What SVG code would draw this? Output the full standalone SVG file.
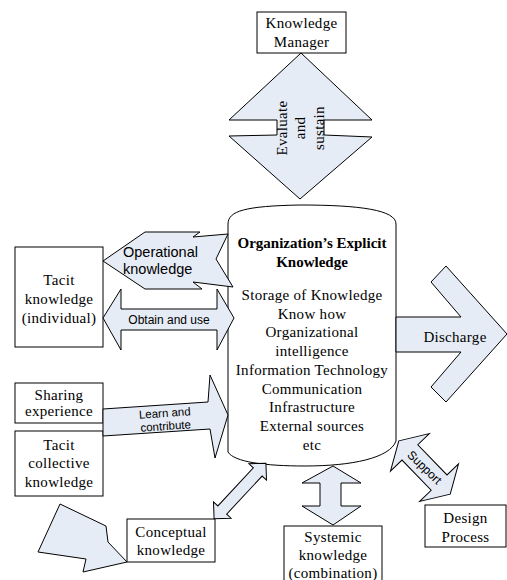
<svg xmlns="http://www.w3.org/2000/svg" width="507" height="580" viewBox="0 0 507 580">
<style>
.box{fill:#fff;stroke:#000;stroke-width:1}
.arr{fill:#e6ecf6;stroke:#000;stroke-width:1;stroke-linejoin:miter}
.serif{font-family:"Liberation Serif","Times New Roman",serif;font-size:15px;fill:#000;text-anchor:middle;letter-spacing:0.3px}
.sans{font-family:"Liberation Sans",Arial,sans-serif;fill:#000}
.bold{font-weight:bold;letter-spacing:0}
</style>
<rect width="507" height="580" fill="#fff"/>

<g id="knowledge-manager">
<rect class="box" x="257" y="12" width="89" height="41"/>
<text class="serif" x="301.5" y="28">Knowledge</text>
<text class="serif" x="301.5" y="47">Manager</text>
</g>

<g id="explicit-knowledge">
<path class="box" d="M228,224 C228,211 245,206 300,205 C360,205 396,210 396,224 L396,441 C390,458 352,466 305,466 C265,466 234,462 228,452 Z"/>
<text class="serif bold" x="312" y="248">Organization’s Explicit</text>
<text class="serif bold" x="312" y="267">Knowledge</text>
<text class="serif" x="312" y="300">Storage of Knowledge</text>
<text class="serif" x="312" y="318.7">Know how</text>
<text class="serif" x="312" y="337.4">Organizational</text>
<text class="serif" x="312" y="356.1">intelligence</text>
<text class="serif" x="312" y="374.8">Information Technology</text>
<text class="serif" x="312" y="393.5">Communication</text>
<text class="serif" x="312" y="412.2">Infrastructure</text>
<text class="serif" x="312" y="430.9">External sources</text>
<text class="serif" x="312" y="449.6">etc</text>
</g>

<g id="tacit-individual">
<rect class="box" x="15" y="247" width="88" height="100"/>
<text class="serif" x="59" y="285">Tacit</text>
<text class="serif" x="59" y="304">knowledge</text>
<text class="serif" x="59" y="323">(individual)</text>
</g>

<g id="sharing-experience">
<rect class="box" x="15" y="383" width="88" height="40"/>
<text class="serif" x="59" y="400">Sharing</text>
<text class="serif" x="59" y="416">experience</text>
</g>

<g id="tacit-collective">
<rect class="box" x="15" y="431" width="88" height="65"/>
<text class="serif" x="59" y="450">Tacit</text>
<text class="serif" x="59" y="468">collective</text>
<text class="serif" x="59" y="487">knowledge</text>
</g>

<g id="conceptual-knowledge">
<rect class="box" x="127" y="519" width="88" height="43"/>
<text class="serif" x="171" y="537">Conceptual</text>
<text class="serif" x="171" y="555">knowledge</text>
</g>

<g id="systemic-knowledge">
<rect class="box" x="284" y="526" width="98" height="60"/>
<text class="serif" x="333" y="542">Systemic</text>
<text class="serif" x="333" y="560">knowledge</text>
<text class="serif" x="333" y="578">(combination)</text>
</g>

<g id="design-process">
<rect class="box" x="425" y="505" width="81" height="42"/>
<text class="serif" x="465.5" y="523">Design</text>
<text class="serif" x="465.5" y="542">Process</text>
</g>

<g id="connectors">
<g id="evaluate-sustain">
<polygon class="arr" points="301,53 372,120 324,120 324,135 372,137 300,199 229,136 277,135 277,120 229,120"/>
<text class="serif" transform="translate(300,128) rotate(-90)"><tspan x="0" y="-13.5">Evaluate</tspan><tspan x="0" y="5">and</tspan><tspan x="0" y="23.5">sustain</tspan></text>
</g>
<g id="operational">
<polygon class="arr" points="103,261 145,232 200,232 193,237 228,234 216,259 233,287 193,282 202,289 145,289"/>
<text class="sans" x="123" y="257" font-size="14.5">Operational</text>
<text class="sans" x="123" y="274" font-size="14.5">knowledge</text>
</g>
<g id="obtain-use">
<polygon class="arr" points="103,318 121,289 121,309 217,309 217,289 234,318 217,350 217,330 121,330 121,350"/>
<text class="sans" x="169" y="323.5" font-size="12" text-anchor="middle">Obtain and use</text>
</g>
<g id="learn-contribute">
<polygon class="arr" points="103,409 208,402 210,375 228,415 215,458 210,429 103,436"/>
<text class="sans" font-size="11.5" text-anchor="middle" transform="translate(165,417) rotate(-4)"><tspan x="0" y="0">Learn and</tspan><tspan x="0" y="13">contribute</tspan></text>
</g>
<g id="discharge">
<polygon class="arr" points="396,317 461,317 431,282 446,266 507,334 446,402 431,387 461,352 396,352"/>
<text class="serif" x="455" y="342">Discharge</text>
</g>
<g id="to-conceptual">
<polygon class="arr" points="60,504 106,526 108,542 127,562 83,572 86,559 38,552"/>
</g>
<g id="conceptual-link">
<polygon class="arr" transform="translate(240,491) rotate(-47)" points="-38,0 -26,-12 -26,-6 26,-6 26,-12 38,0 26,12 26,6 -26,6 -26,12"/>
</g>
<g id="systemic-link">
<polygon class="arr" points="333,466 361,483 341,483 341,506 361,506 333,525 302,506 320,506 320,483 302,483"/>
</g>
<g id="support">
<polygon class="arr" transform="translate(424.5,467.5) rotate(46)" points="-37,0 -21,-27 -21,-11 21,-11 21,-27 37,0 21,27 21,11 -21,11 -21,27"/>
<text class="sans" font-size="12" text-anchor="middle" transform="translate(424.5,467.5) rotate(44)" y="4">Support</text>
</g>
</g>
</svg>
